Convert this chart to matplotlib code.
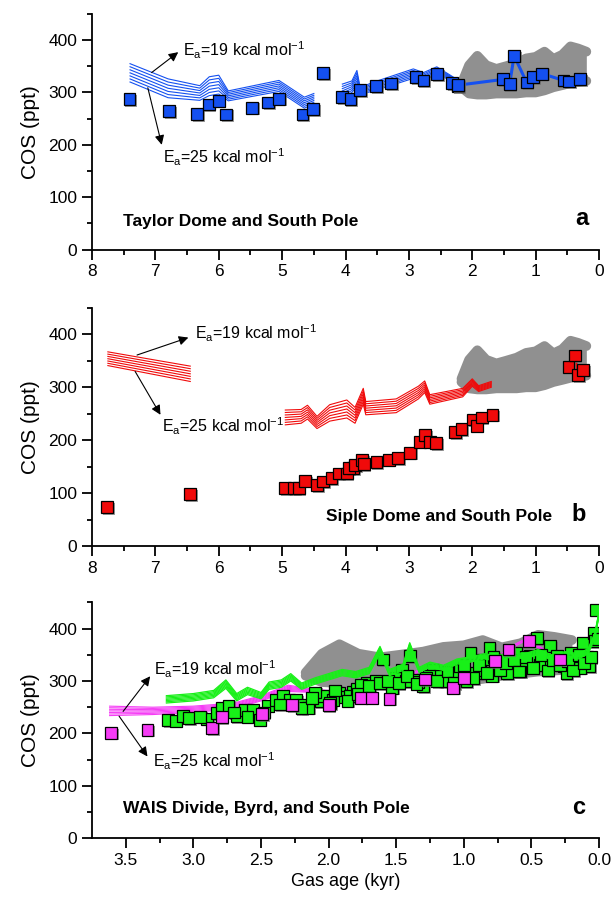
import matplotlib
matplotlib.use("Agg")
import matplotlib.pyplot as plt
import matplotlib.patheffects as pe
import numpy as np

plt.rcParams['font.family'] = ['Liberation Sans', 'DejaVu Sans']
plt.rcParams['mathtext.default'] = 'regular'

# --- South Pole envelope (gray) ---
gray_age = [2.17, 2.05, 1.92, 1.78, 1.62, 1.47, 1.3, 1.15, 1.0, 0.86, 0.72, 0.58, 0.45, 0.33, 0.2]
gray_hi = [316, 352, 370, 352, 345, 350, 356, 365, 368, 378, 364, 372, 388, 384, 378]
gray_lo = [310, 298, 296, 296, 298, 298, 298, 300, 300, 304, 310, 314, 318, 320, 322]

ea_values = [19, 20, 21, 22, 23, 24, 25]

# --- panel a: Taylor Dome ---
td_age = [7.41, 6.78, 6.34, 6.16, 6.0, 5.88, 5.47, 5.22, 5.05, 4.68, 4.51, 4.35,
          4.05, 3.92, 3.77, 3.52, 3.28, 2.89, 2.77, 2.55, 2.32, 2.22]
td_cos = [287, 264, 259, 277, 284, 258, 271, 281, 288, 258, 268, 337,
          291, 287, 304, 312, 317, 329, 323, 335, 318, 312]
sp_a_age = [2.22, 1.51, 1.41, 1.34, 1.14, 1.04, 0.90, 0.56, 0.47, 0.30]
sp_a_cos = [314, 325, 316, 370, 319, 329, 336, 323, 321, 325]

a_m1_age = [7.4, 6.8, 6.3, 6.15, 6.0, 5.85, 5.05, 4.65, 4.5]
a_m1_top = [355, 326, 313, 330, 333, 303, 323, 291, 298]
a_m1_bot = [320, 290, 285, 294, 297, 284, 302, 270, 278]
a_m2_age = [4.05, 3.9, 3.82, 3.77, 3.5, 2.93, 2.77, 2.56, 2.24]
a_m2_top = [316, 322, 342, 310, 322, 345, 338, 349, 325]
a_m2_bot = [290, 300, 312, 296, 305, 327, 322, 335, 318]

# --- panel b: Siple Dome ---
sd_age = [7.76, 6.45, 4.95, 4.81, 4.74, 4.64, 4.45, 4.35, 4.22, 4.11, 3.98, 3.88,
          3.95, 3.85, 3.74, 3.71, 3.51, 3.32, 3.17, 2.98, 2.83, 2.74, 2.67, 2.57,
          2.27, 2.17, 1.99, 1.93, 1.85, 1.68]
sd_cos = [73, 98, 109, 109, 109, 123, 115, 122, 128, 137, 137, 147,
          147, 153, 163, 155, 158, 163, 166, 176, 197, 210, 197, 194,
          215, 221, 239, 227, 243, 248]
sp_b_age = [0.48, 0.38, 0.33, 0.25]
sp_b_cos = [339, 360, 323, 333]

b_m1_age = [7.75, 6.45]
b_m1_top = [367, 340]
b_m1_bot = [341, 311]
b_m2_age = [4.95, 4.7, 4.6, 4.45, 4.25, 3.98, 3.85, 3.72, 3.68, 3.2, 2.85,
            2.75, 2.67, 2.15, 2.0, 1.9, 1.7]
b_m2_top = [257, 258, 266, 245, 267, 276, 262, 298, 273, 278, 302,
            312, 286, 298, 316, 303, 311]
b_m2_bot = [229, 232, 240, 222, 236, 242, 232, 268, 248, 252, 278,
            290, 268, 282, 302, 292, 300]

# --- panel c: WAIS Divide and Byrd ---
wd_age = [3.19, 3.13, 3.08, 3.03, 2.90, 2.83, 2.79, 2.74, 2.68, 2.62, 2.56, 2.51,
          2.45, 2.39, 2.34, 2.29, 2.24, 2.19, 2.15, 2.06, 2.04, 1.92, 1.82, 1.97,
          1.88, 1.84, 1.79, 1.72, 1.60, 1.53, 1.46, 1.40, 1.37, 1.30, 1.23, 1.18,
          1.10, 1.03, 0.95, 0.91, 0.86, 0.81, 0.76, 0.71, 0.65, 0.61, 0.56, 0.51,
          0.46, 0.41, 0.36, 0.31, 0.26, 0.21, 0.17, 0.12, 0.07, 0.04, 0.03, 0.02,
          1.65, 1.50, 1.34, 1.26, 1.14, 1.06, 0.98, 0.88, 0.68, 0.58, 0.44, 0.33,
          0.24, 0.14, 0.09, 2.10, 1.95, 1.76, 1.43, 0.79,
          1.99, 1.86, 1.78, 1.70, 1.62, 1.56, 1.48, 1.42, 1.35, 1.28, 1.20, 1.12,
          1.07, 1.00, 0.93, 0.89, 0.83, 0.78, 0.73, 0.69, 0.63, 0.59, 0.54, 0.49,
          0.43, 0.38, 0.34, 0.29, 0.23, 0.19, 0.15, 0.11, 0.06, 0.01,
          2.70, 2.60, 2.95, 2.20, 2.12, 2.48, 2.36]
wd_cos = [225, 224, 233, 229, 228, 239, 249, 253, 233, 245, 245, 226,
          253, 264, 271, 264, 264, 255, 249, 261, 271, 277, 280, 264,
          270, 271, 284, 296, 341, 287, 322, 347, 303, 290, 322, 309,
          312, 322, 354, 315, 341, 363, 331, 341, 322, 354, 328, 347,
          382, 335, 366, 347, 328, 354, 341, 373, 328, 392, 376, 436,
          300, 305, 298, 310, 300, 305, 300, 320, 315, 318, 330, 338,
          315, 325, 345, 278, 282, 292, 300, 310,
          258, 262, 275, 290, 296, 300, 296, 310, 295, 305, 300, 318,
          296, 330, 305, 330, 315, 345, 320, 335, 340, 318, 345, 325,
          350, 320, 340, 330, 338, 320, 350, 335, 345, 380,
          240, 232, 232, 248, 268, 240, 255]
byrd_age = [3.61, 3.34, 2.86, 2.79, 2.49, 2.27, 2.0, 1.76, 1.68, 1.55, 1.29,
            1.08, 1.0, 0.77, 0.67, 0.52, 0.29]
byrd_cos = [201, 207, 210, 231, 237, 254, 254, 268, 268, 266, 303,
            287, 306, 338, 360, 376, 341]

c_mag_age = [3.62, 3.3, 3.0, 2.7, 2.5, 2.3, 2.1, 2.0, 1.75, 1.5, 1.32, 1.13, 1.0,
             0.76, 0.66, 0.54, 0.29]
c_mag_top = [252, 250, 252, 258, 272, 292, 284, 282, 289, 300, 323, 308, 314,
             343, 365, 381, 343]
c_mag_bot = [234, 236, 240, 247, 262, 280, 278, 277, 284, 296, 319, 304, 310,
             339, 361, 377, 339]
c_grn_age = [3.2, 3.0, 2.85, 2.76, 2.68, 2.6, 2.5, 2.44, 2.35, 2.28, 2.2, 2.1,
             2.0, 1.9, 1.8, 1.7, 1.62, 1.55, 1.45, 1.4, 1.33, 1.25, 1.15, 1.05,
             0.95, 0.85, 0.75, 0.65, 0.55, 0.45, 0.35, 0.25, 0.15, 0.08, 0.03, 0.0]
c_grn_top = [272, 276, 282, 302, 276, 288, 278, 298, 302, 314, 296, 306,
             314, 322, 318, 326, 366, 322, 332, 373, 326, 336, 330, 342,
             346, 352, 348, 356, 352, 360, 350, 356, 352, 362, 392, 432]
c_grn_bot = [258, 262, 268, 286, 262, 274, 266, 284, 288, 300, 284, 294,
             302, 310, 306, 314, 352, 310, 320, 360, 316, 326, 320, 332,
             336, 342, 338, 346, 342, 350, 340, 346, 342, 352, 382, 424]

BLUE = '#1450f0'
RED = '#f00a0a'
GREEN = '#18f018'
MAGENTA = '#f53cf5'
GRAY = '#909090'

shadow = [pe.SimplePatchShadow(offset=(1.2, -1.2), shadow_rgbFace='0.45', alpha=0.7), pe.Normal()]


def draw_gray(ax):
    ax.fill_between(gray_age, gray_lo, gray_hi, color=GRAY, lw=0, zorder=1)
    for edge in (gray_hi, gray_lo):
        ax.plot(gray_age, edge, color=GRAY, lw=7, solid_capstyle='round',
                solid_joinstyle='round', zorder=1)


def draw_bundle(ax, age, top, bot, color, lw=0.8, z=3):
    top = np.array(top, float)
    bot = np.array(bot, float)
    for ea in ea_values:
        w = (ea - ea_values[0]) / (ea_values[-1] - ea_values[0])
        ax.plot(age, top + w * (bot - top), color=color, lw=lw, zorder=z)


def squares(ax, x, y, color, z=4):
    ax.plot(x, y, 's', ms=8.5, mfc=color, mec='black', mew=0.9, ls='none',
            zorder=z, path_effects=shadow)


def ea_arrow(ax, head_xy, tail_xy):
    ax.annotate('', xy=head_xy, xytext=tail_xy,
                arrowprops=dict(arrowstyle='-|>', color='black', lw=0.8,
                                mutation_scale=14, shrinkA=0, shrinkB=0), zorder=6)


def ea_text(ax, x, y, value):
    ax.text(x, y, r'E$_{a}$=%d kcal mol$^{-1}$' % value, fontsize=11.5,
            ha='left', va='center', zorder=6)


def style(ax, xmax, major, minor, fmt):
    ax.set_xlim(xmax, 0)
    ax.set_ylim(0, 450)
    ax.spines['top'].set_visible(False)
    ax.spines['right'].set_visible(False)
    for s in ('left', 'bottom'):
        ax.spines[s].set_linewidth(1.3)
    ax.set_xticks(major)
    ax.set_xticks(minor, minor=True)
    ax.set_xticklabels([fmt % v for v in major])
    ax.set_yticks([0, 100, 200, 300, 400])
    ax.set_yticks([50, 150, 250, 350, 450], minor=True)
    ax.tick_params(which='major', length=7, width=1.3, labelsize=12.5, direction='out')
    ax.tick_params(which='minor', length=3.5, width=1.3, direction='out')
    ax.set_ylabel('COS (ppt)', fontsize=15, labelpad=6)


fig = plt.figure(figsize=(6.16, 9.06), dpi=100)
ax_a = fig.add_axes([0.1494, 0.7246, 0.823, 0.26])
ax_b = fig.add_axes([0.1494, 0.3974, 0.823, 0.2627])
ax_c = fig.add_axes([0.1494, 0.0747, 0.823, 0.2605])

# panel a
draw_gray(ax_a)
draw_bundle(ax_a, a_m1_age, a_m1_top, a_m1_bot, BLUE)
draw_bundle(ax_a, a_m2_age, a_m2_top, a_m2_bot, BLUE)
ax_a.plot(sp_a_age, sp_a_cos, color=BLUE, lw=2.2, zorder=3)
squares(ax_a, td_age, td_cos, BLUE)
squares(ax_a, sp_a_age, sp_a_cos, BLUE)
ea_arrow(ax_a, (6.64, 377), (7.06, 338))
ea_text(ax_a, 6.57, 380, 19)
ea_arrow(ax_a, (6.90, 200), (7.12, 309))
ea_text(ax_a, 6.88, 176, 25)
ax_a.text(0.061, 0.12, 'Taylor Dome and South Pole', transform=ax_a.transAxes,
          fontsize=12.5, fontweight='bold', ha='left', va='center')
ax_a.text(0.966, 0.13, 'a', transform=ax_a.transAxes, fontsize=17,
          fontweight='bold', ha='center', va='center')
style(ax_a, 8, [8, 7, 6, 5, 4, 3, 2, 1, 0], np.arange(0.5, 8, 1.0), '%d')

# panel b
draw_gray(ax_b)
draw_bundle(ax_b, b_m1_age, b_m1_top, b_m1_bot, RED)
draw_bundle(ax_b, b_m2_age, b_m2_top, b_m2_bot, RED)
ax_b.plot(sp_b_age, sp_b_cos, color=RED, lw=2.0, zorder=3)
squares(ax_b, sd_age, sd_cos, RED)
squares(ax_b, sp_b_age, sp_b_cos, RED)
ea_arrow(ax_b, (6.48, 394), (7.29, 361))
ea_text(ax_b, 6.37, 402, 19)
ea_arrow(ax_b, (6.92, 248), (7.32, 330))
ea_text(ax_b, 6.90, 226, 25)
ax_b.text(0.907, 0.123, 'Siple Dome and South Pole', transform=ax_b.transAxes,
          fontsize=12.5, fontweight='bold', ha='right', va='center')
ax_b.text(0.96, 0.134, 'b', transform=ax_b.transAxes, fontsize=17,
          fontweight='bold', ha='center', va='center')
style(ax_b, 8, [8, 7, 6, 5, 4, 3, 2, 1, 0], np.arange(0.5, 8, 1.0), '%d')

# panel c
draw_gray(ax_c)
draw_bundle(ax_c, c_mag_age, c_mag_top, c_mag_bot, MAGENTA)
squares(ax_c, wd_age, wd_cos, GREEN, z=4)
draw_bundle(ax_c, c_grn_age, c_grn_top, c_grn_bot, GREEN, lw=0.9, z=4.5)
squares(ax_c, byrd_age, byrd_cos, MAGENTA, z=5)
ea_arrow(ax_c, (3.32, 309), (3.52, 242))
ea_text(ax_c, 3.29, 322, 19)
ea_arrow(ax_c, (3.34, 156), (3.55, 233))
ea_text(ax_c, 3.30, 146, 25)
ax_c.text(0.061, 0.128, 'WAIS Divide, Byrd, and South Pole', transform=ax_c.transAxes,
          fontsize=12.5, fontweight='bold', ha='left', va='center')
ax_c.text(0.96, 0.13, 'c', transform=ax_c.transAxes, fontsize=17,
          fontweight='bold', ha='center', va='center')
style(ax_c, 3.75, [3.5, 3.0, 2.5, 2.0, 1.5, 1.0, 0.5, 0.0],
      np.arange(0.25, 3.75, 0.5), '%.1f')
ax_c.set_xlabel('Gas age (kyr)', fontsize=13, labelpad=4)

fig.savefig('out.png', dpi=100)
